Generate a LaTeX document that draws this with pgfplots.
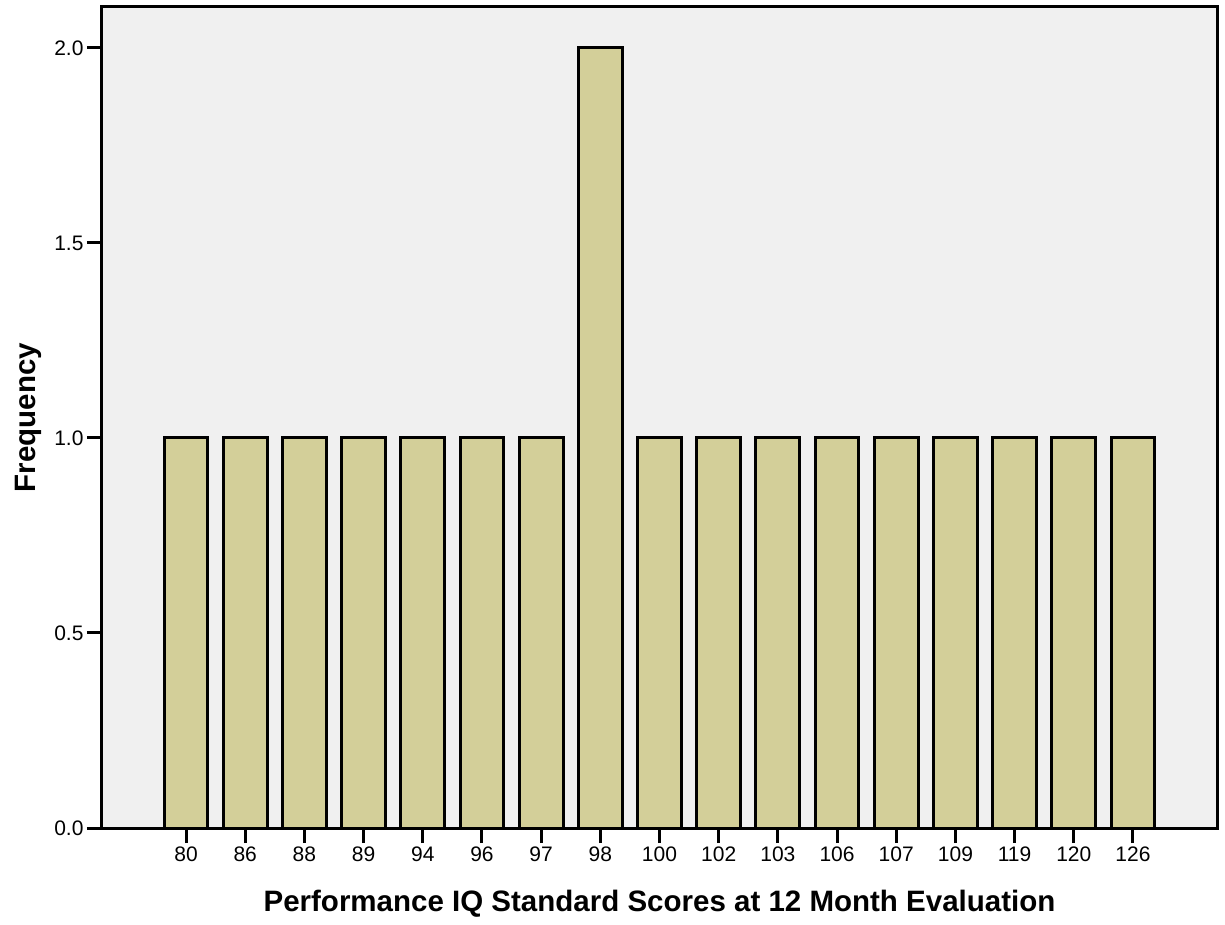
\documentclass[border=0pt]{standalone}
\usepackage{fontspec}
\setmainfont{Liberation Sans}
\usepackage{pgfplots}
\pgfplotsset{compat=1.18}
\definecolor{barc}{HTML}{D3CF99}
\definecolor{bgc}{HTML}{F0F0F0}
\begin{document}
\begin{tikzpicture}
\begin{axis}[
  name=ax,
  scale only axis, width=1115pt, height=821pt,
  xmin=-1.42, xmax=17.42, ymin=0, ymax=2.105,
  axis background/.style={fill=bgc},
  axis line style={line width=3pt},
  ybar, bar width=0.74,
  xtick=data,
  xticklabels={80,86,88,89,94,96,97,98,100,102,103,106,107,109,119,120,126},
  ytick={0,0.5,1,1.5,2},
  yticklabel style={/pgf/number format/.cd, fixed, fixed zerofill, precision=1},
  /pgf/number format/assume math mode=true,
  tick align=outside, major tick length=15pt,
  tick style={line width=3pt, black},
  xtick pos=left, ytick pos=left,
  ticklabel style={font=\fontsize{21}{21}\selectfont},
  xlabel={Performance IQ Standard Scores at 12 Month Evaluation},
  ylabel={Frequency},
  label style={font=\bfseries\fontsize{29.5}{29.5}\selectfont},
  xlabel style={at={(axis description cs:0.5,-0.102)}, anchor=base},
  ylabel style={at={(axis description cs:-0.060,0.5)}, anchor=base},
  clip=false,
]
\addplot[fill=barc, draw=black, line width=3pt] coordinates {
(0,1)(1,1)(2,1)(3,1)(4,1)(5,1)(6,1)(7,2)(8,1)(9,1)(10,1)(11,1)(12,1)(13,1)(14,1)(15,1)(16,1)};
\end{axis}
\pgfresetboundingbox
\path (ax.south west) ++(-102pt,-96pt) rectangle ++(1225pt,924pt);
\end{tikzpicture}
\end{document}
